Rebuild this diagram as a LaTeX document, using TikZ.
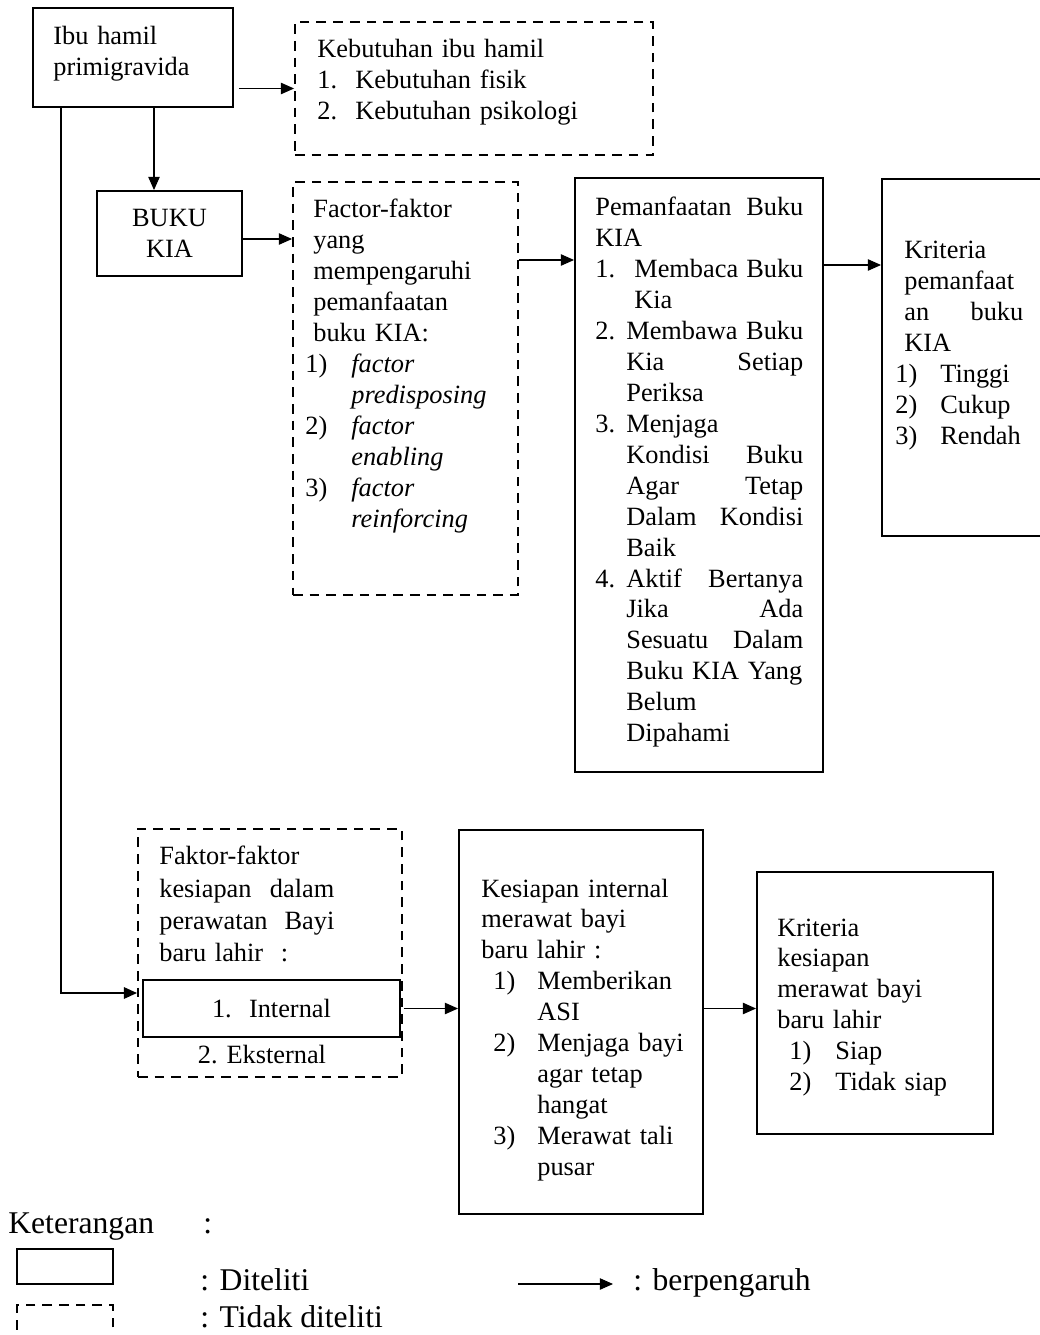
\documentclass[tikz,border=0pt]{standalone}
\usepackage{fontspec}
\setmainfont{Liberation Serif}
\usetikzlibrary{arrows.meta}
\newlength\pix \setlength\pix{0.02cm}
\newcommand\isi{\fontsize{15}{17.6}\selectfont}
\newcommand\ketfont{\fontsize{18}{21}\selectfont}
\newcommand\nom[2]{\makebox[#1\pix][l]{#2}}
\tikzset{
  kotak/.style={draw, line width=1.1pt, inner sep=0pt},
  putus/.style={kotak, dash pattern=on 5.5pt off 4pt},
  teks/.style={inner sep=0pt, anchor=north west, align=left, font=\isi},
  panah/.style={-{Triangle[length=7.5pt,width=6.5pt]}, line width=0.6pt},
  legenda/.style={inner sep=0pt, anchor=base west, font=\ketfont},
}
\begin{document}
\begin{tikzpicture}[x=0.02cm, y=-0.02cm]
        \useasboundingbox (0,0) rectangle (1039,1335);

        % kotak-kotak
        \node[kotak, minimum width=200\pix, minimum height=99\pix] (ibu) at (133,57.5) {};
        \node[putus, minimum width=358\pix, minimum height=133\pix] (keb) at (474,88.5) {};
        \node[kotak, minimum width=145\pix, minimum height=85\pix, font=\isi, align=center] (buku) at (169.5,233.5) {BUKU\\KIA};
        \node[putus, minimum width=225\pix, minimum height=413\pix] (fac) at (405.5,388.5) {};
        \node[kotak, minimum width=248\pix, minimum height=594\pix] (pem) at (699,475) {};
        \node[kotak, minimum width=168\pix, minimum height=357\pix] (kri1) at (966,357.5) {};
        \node[putus, minimum width=264\pix, minimum height=248\pix] (kesF) at (270,953) {};
        \node[kotak, minimum width=257\pix, minimum height=57\pix, font=\isi] (int) at (271.5,1008.5) {\nom{37}{1.}Internal};
        \node[kotak, minimum width=244\pix, minimum height=384\pix] (kesI) at (581,1022) {};
        \node[kotak, minimum width=236\pix, minimum height=262\pix] (kri2) at (875,1003) {};

        % isi teks
        \node[teks, text width=170\pix] (ibu-t) at (53,23) {\strut Ibu hamil\\primigravida};
        \node[teks, text width=320\pix] (keb-t) at (317,36) {\strut Kebutuhan ibu hamil\\\nom{38}{1.}Kebutuhan fisik\\\nom{38}{2.}Kebutuhan psikologi};
        \node[teks, text width=205\pix] (fac-t) at (305,196) {\strut\hspace*{8\pix}Factor-faktor\\\hspace*{8\pix}yang\\\hspace*{8\pix}mempengaruhi\\\hspace*{8\pix}pemanfaatan\\\hspace*{8\pix}buku KIA:\\\nom{46}{1)}\textit{factor}\\\hspace*{46\pix}\textit{predisposing}\\\nom{46}{2)}\textit{factor}\\\hspace*{46\pix}\textit{enabling}\\\nom{46}{3)}\textit{factor}\\\hspace*{46\pix}\textit{reinforcing}};
        \node[teks, text width=208\pix] (pem-t) at (595,194) {\strut Pemanfaatan\hfill Buku\\KIA\\\nom{39}{1.}Membaca\hfill Buku\\\hspace*{39\pix}Kia\\\nom{31}{2.}Membawa\hfill Buku\\\hspace*{31\pix}Kia\hfill Setiap\\\hspace*{31\pix}Periksa\\\nom{31}{3.}Menjaga\\\hspace*{31\pix}Kondisi\hfill Buku\\\hspace*{31\pix}Agar\hfill Tetap\\\hspace*{31\pix}Dalam\hfill Kondisi\\\hspace*{31\pix}Baik\\\nom{31}{4.}Aktif\hfill Bertanya\\\hspace*{31\pix}Jika\hfill Ada\\\hspace*{31\pix}Sesuatu\hfill Dalam\\\hspace*{31\pix}Buku KIA Yang\\\hspace*{31\pix}Belum\\\hspace*{31\pix}Dipahami};
        \node[teks, text width=128\pix] (kri1-t) at (895,237) {\strut\hspace*{9\pix}Kriteria\\\hspace*{9\pix}pemanfaat\\\hspace*{9\pix}an\hfill buku\\\hspace*{9\pix}KIA\\\nom{45}{1)}Tinggi\\\nom{45}{2)}Cukup\\\nom{45}{3)}Rendah};
        \node[teks, text width=175\pix, font=\fontsize{15}{18.4}\selectfont] (kesF-t) at (159,842) {\strut Faktor-faktor\\kesiapan\hfill dalam\\perawatan\hfill Bayi\\baru lahir~~:};
        \node[inner sep=0pt, anchor=base, font=\isi] (eks) at (262,1063) {2. Eksternal};
        \node[teks, text width=212\pix] (kesI-t) at (481,875) {\strut Kesiapan internal\\merawat bayi\\baru lahir :\\\hspace*{12\pix}\nom{44}{1)}Memberikan\\\hspace*{56\pix}ASI\\\hspace*{12\pix}\nom{44}{2)}Menjaga bayi\\\hspace*{56\pix}agar tetap\\\hspace*{56\pix}hangat\\\hspace*{12\pix}\nom{44}{3)}Merawat tali\\\hspace*{56\pix}pusar};
        \node[teks, text width=200\pix] (kri2-t) at (777,914) {\strut Kriteria\\kesiapan\\merawat bayi\\baru lahir\\\hspace*{12\pix}\nom{46}{1)}Siap\\\hspace*{12\pix}\nom{46}{2)}Tidak siap};

        % panah-panah
        \coordinate (bk) at ([xshift=-15.5\pix]buku.north);
        \coordinate (b1) at ([yshift=-5.5\pix]buku.east);
        \coordinate (p1) at ([yshift=128.5\pix]fac.east);
        \coordinate (p2) at ([yshift=210\pix]pem.east);
        \coordinate (masuk) at ([yshift=-40\pix]kesF.west);
        \draw[panah, shorten <=5\pix] (ibu.east |- keb.west) -- (keb.west);
        \draw[panah] (bk |- ibu.south) -- (bk);
        \draw[panah] (b1) -- (b1 -| fac.west);
        \draw[panah] (p1) -- (p1 -| pem.west);
        \draw[panah] (p2) -- (p2 -| kri1.west);
        \draw[panah, line width=1.1pt] ([xshift=-72\pix]ibu.south) |- (masuk);
        \draw[panah, shorten <=3\pix] (int.east) -- (int.east -| kesI.west);
        \draw[panah] (kesI.east |- int.east) -- (kri2.west |- int.east);

        % keterangan
        \node[legenda] (ket) at (8,1233) {Keterangan};
        \node[legenda] (ket-c) at (203,1233) {:};
        \node[kotak, line width=0.9pt, minimum width=96\pix, minimum height=35\pix] (lg-a) at (65,1266.5) {};
        \node[legenda] (lg-a-t) at (200,1290) {: Diteliti};
        \node[putus, line width=0.9pt, minimum width=96\pix, minimum height=60\pix] (lg-b) at (65,1335) {};
        \node[legenda] (lg-b-t) at (200,1327) {: Tidak diteliti};
        \coordinate (lg-c1) at (518,1284);
        \coordinate (lg-c2) at (613,1284);
        \draw[panah] (lg-c1) -- (lg-c2);
        \node[legenda] (lg-c-t) at (633,1290) {: berpengaruh};
\end{tikzpicture}
\end{document}
